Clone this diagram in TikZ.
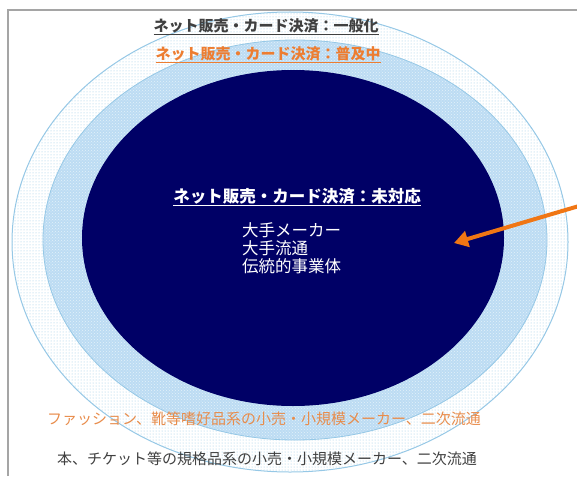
\documentclass[tikz,border=0pt]{standalone}
\usepackage{fontspec}
\newfontfamily\jp{Noto Sans CJK JP}
\usetikzlibrary{arrows.meta,patterns}
\definecolor{frame}{RGB}{165,165,165}
\definecolor{darkgray}{RGB}{64,64,64}
\definecolor{orange}{RGB}{237,125,49}
\definecolor{lightorange}{RGB}{232,140,75}
\definecolor{arrow}{RGB}{240,118,20}
\definecolor{navy}{RGB}{0,0,102}
\definecolor{ringline}{RGB}{150,200,230}
\definecolor{ringfill}{RGB}{188,220,243}
\begin{document}
\begin{tikzpicture}[x=1pt,y=-1pt,
label/.style={font=\jp\fontsize{15}{18}\selectfont, inner sep=0pt},
inner/.style={font=\jp\fontsize{16.5}{19}\selectfont, inner sep=0pt, text=white}
]
\useasboundingbox (0,0) rectangle (577,476);
% frame (only top and left edges visible)
\draw[frame,line width=1.5pt] (8,476) -- (8,10) -- (577,10);
% outer ring: dotted
\fill[white] (290,242) ellipse [x radius=278, y radius=230];
\fill[pattern=dots, pattern color=ringline] (290,242) ellipse [x radius=278, y radius=230];
\draw[ringline,line width=1pt] (290,242) ellipse [x radius=278, y radius=230];
% middle ring
\fill[ringfill] (295,240) ellipse [x radius=252, y radius=200];
\fill[pattern=crosshatch dots, pattern color=white!60!ringfill] (295,240) ellipse [x radius=252, y radius=200];
\draw[ringline,line width=0.8pt] (295,240) ellipse [x radius=252, y radius=200];
% inner core
\fill[navy] (293,238) ellipse [x radius=211, y radius=168];
% headers
\node[label, text=darkgray, font=\jp\bfseries\fontsize{15}{18}\selectfont] (general) at (266,27) {\underline{ネット販売・カード決済：一般化}};
\node[label, text=orange, font=\jp\bfseries\fontsize{15}{18}\selectfont] (spread) at (268,55) {\underline{ネット販売・カード決済：普及中}};
\node[inner, font=\jp\bfseries\fontsize{16.5}{19}\selectfont] (none) at (297,197) {\underline{ネット販売・カード決済：未対応}};
% players in the core
\node[inner, anchor=west] (maker) at (242,230) {大手メーカー};
\node[inner, anchor=west] (retail) at (242,248) {大手流通};
\node[inner, anchor=west] (trad) at (242,266) {伝統的事業体};
% bottom lines
\node[label, text=lightorange] (fashion) at (264,419) {ファッション、靴等嗜好品系の小売・小規模メーカー、二次流通};
\node[label, text=darkgray] (books) at (267,459) {本、チケット等の規格品系の小売・小規模メーカー、二次流通};
% arrow
\coordinate (from) at (579,206);
\coordinate (to) at (454,243);
\draw[arrow,line width=4pt,-{Triangle[length=14pt,width=16pt]}] (from) -- (to);
\end{tikzpicture}
\end{document}
